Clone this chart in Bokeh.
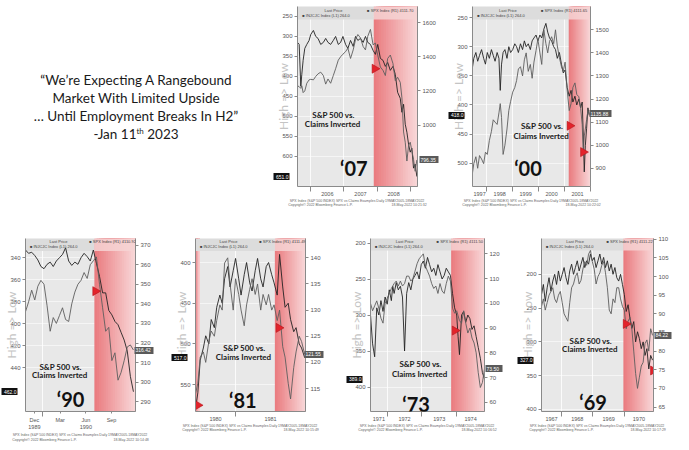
import numpy as np
from bokeh.plotting import figure
from bokeh.models import Range1d, LinearAxis, FixedTicker, BoxAnnotation, Label, Div, Spacer
from bokeh.layouts import row, column
from bokeh.embed import file_html
from bokeh.resources import INLINE

# ---------------- data ----------------
x07 = [2005.6, 2005.65, 2005.7, 2005.73, 2005.77, 2005.82, 2005.88, 2005.95,
       2006.0, 2006.08, 2006.15, 2006.22, 2006.3, 2006.38, 2006.45, 2006.52, 2006.6, 2006.68, 2006.75, 2006.83, 2006.9, 2006.97,
       2007.05, 2007.12, 2007.2, 2007.28, 2007.35, 2007.42, 2007.5, 2007.58, 2007.65, 2007.72, 2007.8, 2007.88, 2007.95,
       2008.02, 2008.1, 2008.18, 2008.25, 2008.32, 2008.4, 2008.48, 2008.55, 2008.62, 2008.7, 2008.75, 2008.8, 2008.85, 2008.9, 2008.95,
       2009.0, 2009.05, 2009.1, 2009.15, 2009.2]
claims07 = [315, 320, 425, 395, 360, 330, 320, 310,
            295, 285, 300, 305, 320, 315, 305, 315, 320, 310, 300, 320, 315, 300,
            320, 330, 310, 325, 300, 310, 305, 315, 300, 315, 320, 335, 345,
            320, 355, 360, 375, 365, 385, 375, 395, 440, 455, 490, 470, 520, 540, 570,
            590, 580, 630, 620, 651]
spx07 = [1230, 1225, 1215, 1230, 1190, 1200, 1245, 1265,
         1268, 1265, 1285, 1300, 1310, 1290, 1240, 1270, 1245, 1290, 1330, 1380, 1400, 1415,
         1430, 1450, 1390, 1440, 1500, 1530, 1510, 1460, 1440, 1520, 1560, 1470, 1480,
         1410, 1340, 1320, 1290, 1390, 1410, 1360, 1260, 1280, 1250, 1160, 960, 900, 790, 880,
         900, 850, 800, 730, 796.35]

x00 = [1997.45, 1997.5, 1997.58, 1997.65, 1997.72, 1997.8, 1997.88, 1997.95,
       1998.02, 1998.1, 1998.18, 1998.25, 1998.32, 1998.4, 1998.47, 1998.52, 1998.57, 1998.63, 1998.7, 1998.78, 1998.85, 1998.92,
       1999.0, 1999.08, 1999.15, 1999.22, 1999.3, 1999.38, 1999.45, 1999.52, 1999.6, 1999.68, 1999.75, 1999.82, 1999.9, 1999.97,
       2000.05, 2000.12, 2000.2, 2000.28, 2000.35, 2000.42, 2000.5, 2000.58, 2000.65, 2000.72, 2000.8, 2000.88, 2000.95,
       2001.02, 2001.1, 2001.18, 2001.25, 2001.32, 2001.4, 2001.47, 2001.55, 2001.62, 2001.68, 2001.72, 2001.76, 2001.8, 2001.85, 2001.9, 2001.95]
claims00 = [335, 320, 310, 325, 315, 305, 320, 330,
            310, 320, 305, 315, 325, 310, 320, 375, 330, 310, 305, 320, 300, 310,
            305, 295, 300, 310, 295, 305, 290, 300, 295, 305, 290, 285, 280, 290,
            280, 285, 270, 260, 275, 285, 290, 300, 305, 320, 310, 330, 345,
            340, 370, 385, 375, 395, 385, 400, 390, 405, 395, 450, 515, 470, 440, 405, 418]
spx00 = [880, 920, 950, 900, 955, 940, 920, 970,
         960, 1020, 1060, 1110, 1100, 1090, 1140, 1180, 1120, 960, 1000, 1070, 1150, 1190,
         1230, 1250, 1280, 1330, 1340, 1300, 1370, 1400, 1320, 1350, 1290, 1360, 1410, 1460,
         1400, 1350, 1500, 1440, 1400, 1450, 1470, 1440, 1500, 1430, 1380, 1340, 1320,
         1360, 1240, 1150, 1180, 1250, 1270, 1220, 1210, 1160, 1090, 965, 1040, 1070, 1110, 1150, 1135.88]

x90 = [1989.83, 1989.86, 1989.89, 1989.92, 1989.95, 1989.98, 1990.01, 1990.04, 1990.07, 1990.10,
       1990.13, 1990.16, 1990.19, 1990.22, 1990.25, 1990.28, 1990.31, 1990.34, 1990.37, 1990.40,
       1990.43, 1990.46, 1990.49, 1990.52, 1990.55, 1990.58, 1990.61, 1990.64, 1990.67, 1990.70,
       1990.73, 1990.76, 1990.79, 1990.82, 1990.85, 1990.88]
claims90 = [333, 336, 335, 338, 342, 348, 350, 346, 344, 348,
            343, 340, 337, 331, 343, 347, 344, 346, 340, 336,
            339, 343, 333, 345, 357, 372, 372, 388, 392, 398,
            401, 408, 415, 425, 448, 462]
spx90 = [336, 341, 347, 342, 349, 352, 350, 339, 326, 333,
         330, 334, 338, 332, 331, 340, 346, 350, 352, 356,
         353, 360, 362, 364, 350, 338, 326, 328, 311, 315,
         301, 305, 311, 318, 319, 316.42]

x81 = [1980.49, 1980.52, 1980.55, 1980.59, 1980.62, 1980.66, 1980.69, 1980.73, 1980.76, 1980.80,
       1980.83, 1980.86, 1980.90, 1980.93, 1980.97, 1981.00, 1981.04, 1981.07, 1981.11, 1981.14,
       1981.18, 1981.21, 1981.25, 1981.28, 1981.32, 1981.35, 1981.39, 1981.42, 1981.46, 1981.49,
       1981.53, 1981.56, 1981.60, 1981.63, 1981.67, 1981.70, 1981.74, 1981.77, 1981.81, 1981.84,
       1981.88]
claims81 = [580, 560, 520, 505, 490, 500, 470, 480, 455, 440,
            450, 420, 405, 430, 410, 395, 420, 440, 415, 400,
            425, 435, 410, 395, 420, 430, 405, 400, 415, 425,
            440, 390, 430, 455, 450, 470, 485, 480, 500, 505,
            517]
spx81 = [114, 116, 121, 122, 120, 124, 126, 125, 128, 131,
         130, 139, 140, 135, 130, 136, 133, 130, 127, 131,
         134, 136, 133, 135, 130, 133, 131, 133, 130, 131,
         128, 130, 123, 121, 116, 113, 119, 122, 125, 124,
         121.55]

x73 = [1971.52, 1971.58, 1971.64, 1971.70, 1971.76, 1971.82, 1971.88, 1971.94,
       1972.00, 1972.06, 1972.12, 1972.16, 1972.20, 1972.26, 1972.32, 1972.38, 1972.44, 1972.50,
       1972.56, 1972.62, 1972.68, 1972.74, 1972.80, 1972.86, 1972.92, 1972.98,
       1973.04, 1973.10, 1973.16, 1973.22, 1973.28, 1973.34, 1973.40, 1973.46, 1973.52, 1973.58,
       1973.64, 1973.70, 1973.76, 1973.82, 1973.88, 1973.94,
       1974.00, 1974.04, 1974.08, 1974.14, 1974.20, 1974.26, 1974.32, 1974.38, 1974.44, 1974.50,
       1974.56, 1974.62, 1974.68, 1974.74, 1974.80]
claims73 = [300, 340, 358, 290, 300, 280, 295, 275,
            285, 265, 280, 260, 270, 255, 265, 260, 275, 350, 270, 255, 265, 250, 245, 240, 250, 230,
            225, 235, 220, 230, 240, 235, 245, 230, 240, 250, 245, 235, 240, 245, 270, 290,
            300, 330, 355, 300, 295, 310, 300, 305, 320, 315, 330, 345, 360, 380, 389]
spx73 = [100, 97, 99, 101, 98, 94, 92, 100,
         102, 104, 106, 107, 108, 109, 107, 109, 107, 108, 111, 111, 109, 110, 113, 116, 118, 119,
         120, 115, 113, 111, 108, 106, 107, 104, 108, 105, 104, 108, 111, 109, 98, 96,
         97, 95, 93, 92, 97, 92, 88, 90, 86, 84, 80, 72, 66, 68, 73.50]

x69 = [1967.36, 1967.42, 1967.48, 1967.54, 1967.60, 1967.66, 1967.72, 1967.78, 1967.84, 1967.90, 1967.96,
       1968.02, 1968.08, 1968.14, 1968.20, 1968.26, 1968.32, 1968.38, 1968.44, 1968.50, 1968.56, 1968.62,
       1968.68, 1968.74, 1968.80, 1968.86, 1968.92, 1968.98,
       1969.04, 1969.10, 1969.16, 1969.22, 1969.28, 1969.34, 1969.40, 1969.46, 1969.52, 1969.58, 1969.64,
       1969.70, 1969.76, 1969.82, 1969.88, 1969.94,
       1970.00, 1970.06, 1970.12, 1970.18, 1970.24, 1970.30, 1970.36, 1970.42, 1970.48, 1970.54, 1970.60,
       1970.66, 1970.72, 1970.78, 1970.84, 1970.90]
claims69 = [230, 215, 240, 220, 205, 225, 210, 200, 215, 195, 210,
            200, 190, 205, 215, 195, 185, 200, 190, 180, 195, 185, 175, 190, 180, 185, 170, 180,
            175, 190, 180, 170, 185, 175, 190, 180, 195, 185, 200, 190, 205, 210, 200, 215,
            230, 255, 245, 265, 280, 270, 300, 285, 295, 310, 300, 320, 310, 340, 320, 327]
spx69 = [92, 94, 91, 93, 95, 96, 97, 94, 93, 95, 96,
         93, 90, 89, 88, 93, 97, 98, 100, 101, 98, 99, 102, 104, 103, 106, 107, 104,
         102, 98, 100, 101, 103, 104, 101, 97, 91, 90, 94, 93, 97, 97, 94, 92,
         91, 86, 88, 89, 86, 80, 74, 70, 73, 76, 77, 82, 83, 80, 86, 84.22]

# axis ticks
lt07 = [250, 300, 350, 400, 450, 500, 550, 600]
rt07 = [1000, 1200, 1400, 1600]
lt00 = [250, 300, 350, 400, 450, 500]
rt00 = [900, 1000, 1100, 1200, 1300, 1400, 1500]
lt90 = [340, 360, 380, 400, 420, 440]
rt90 = [290, 300, 310, 320, 330, 340, 350, 360, 370]
lt81 = [400, 450, 500, 550]
rt81 = [115, 120, 125, 130, 135, 140]
lt73 = [200, 250, 300, 350, 400]
rt73 = [60, 70, 80, 90, 100, 110, 120]
lt69 = [200, 250, 300, 350, 400]
rt69 = [65, 70, 75, 80, 85, 90, 95, 100, 105, 110]

years07 = [2006, 2007, 2008]
years00 = [1997, 1998, 1999, 2000, 2001]
years81 = [1980, 1981]
years73 = [1971, 1972, 1973, 1974]
years69 = [1967, 1968, 1969, 1970]
mon_pos90 = [1989.917, 1990.167, 1990.417, 1990.667]
mon_lab90 = ["Dec\n1989", "Mar", "Jun\n1990", "Sep"]

# recession shading (start, end)
shade07 = [(2007.9, 2009.22)]
shade00 = [(2001.16, 2002.0)]
shade90 = [(1990.5, 1990.9)]
shade81 = [(1980.49, 1980.54), (1981.5, 1981.89)]
shade73 = [(1973.84, 1974.8)]
shade69 = [(1969.97, 1970.93)]

# red markers (x, S&P value)
mk07_x, mk07_y = [2007.93], [1330]
mk00_x, mk00_y = [2001.2, 2001.72], [1084, 970]
mk90_x, mk90_y = [1990.51], [346.5]
mk81_x, mk81_y = [1980.52, 1981.55], [111.8, 126.6]
mk73_x, mk73_y = [1973.95], [89]
mk69_x, mk69_y = [1970.05, 1970.92], [87.3, 74.8]

spx_last = ["4111.70", "4111.65", "4110.92", "4111.49", "4111.50", "4111.22"]
titles = ["\u201807", "\u201800", "\u201890", "\u201881", "\u201873", "\u201869"]
stamps = ["18-May-2022 10:21:32", "18-May-2022 10:22:02", "18-May-2022 10:14:48",
          "18-May-2022 10:15:49", "18-May-2022 10:16:52", "18-May-2022 10:17:29"]

# ---------------- styling / helpers ----------------
FONT = "Liberation Sans"
TFONT = "Lato"
C0 = (234, 124, 128)
C1 = (248, 214, 215)
FOOT1 = "SPX Index (S&P 500 INDEX) SPX vs Claims Examples  Daily 19MAY2005-18MAY2022"
FOOT2 = "Copyright\u00a9 2022 Bloomberg Finance L.P."


def hexcol(t):
    r = [int(round(a + (b - a) * t)) for a, b in zip(C0, C1)]
    return "#%02x%02x%02x" % tuple(r)


def style_axis(ax):
    ax.axis_line_color = "#8a8a8a"
    ax.major_tick_line_color = "#8a8a8a"
    ax.major_tick_out = 3
    ax.major_tick_in = 0
    ax.minor_tick_line_color = None
    ax.major_label_text_font = FONT
    ax.major_label_text_font_size = "6px"
    ax.major_label_text_color = "#555555"
    ax.major_label_standoff = 2


def value_axis(p, side, yv, text, color, width_px, range_name=None):
    kw = {} if range_name is None else {"y_range_name": range_name}
    ax = LinearAxis(ticker=FixedTicker(ticks=[yv]), **kw)
    ax.major_label_overrides = {yv: text}
    ax.axis_line_color = None
    ax.minor_tick_line_color = None
    ax.major_tick_out = 0
    ax.major_tick_in = width_px
    ax.major_tick_line_width = 7
    ax.major_tick_line_cap = "butt"
    ax.major_tick_line_color = color
    ax.major_label_text_font = FONT
    ax.major_label_text_font_size = "5px"
    ax.major_label_text_color = "white"
    ax.major_label_standoff = -(width_px - 1)
    p.add_layout(ax, side)


def year_ticks(years, xr):
    pos = [round((max(y, xr[0]) + min(y + 1, xr[1])) / 2, 3) for y in years]
    return pos, [str(y) for y in years]


def make_chart(c, idx):
    x0, x1 = c["xr"]
    lb, ltop = c["yl"]
    rb, rtop = c["yr"]
    fh = c["H"] - c["T"] - c["B"]

    def xf(f):
        return x0 + f * (x1 - x0)

    def yf(f):
        return lb + f * (ltop - lb)

    p = figure(width=c["W"], height=c["H"], x_range=Range1d(x0, x1), y_range=Range1d(lb, ltop),
               output_backend="svg", toolbar_location=None,
               min_border_left=c["L"], min_border_right=c["R"],
               min_border_top=c["T"], min_border_bottom=c["B"])
    p.extra_y_ranges = {"spx": Range1d(rb, rtop)}
    p.background_fill_color = "#e8e8e8"
    p.border_fill_color = "white"
    p.outline_line_color = None

    # grids
    p.xgrid[0].ticker = FixedTicker(ticks=c["bounds"])
    p.xgrid.grid_line_color = "white"
    p.xgrid.grid_line_alpha = 0.8
    p.ygrid.grid_line_color = "white"
    p.ygrid.grid_line_alpha = 0.55

    # left axis (claims, inverted) with the "High => Low" label
    ya = p.yaxis[0]
    ya.ticker = FixedTicker(ticks=c["lt"])
    style_axis(ya)
    ya.axis_label = "High => Low"
    ya.axis_label_text_font = TFONT
    ya.axis_label_text_font_size = "12px"
    ya.axis_label_text_font_style = "normal"
    ya.axis_label_text_color = "#c4c4c4"
    ya.axis_label_standoff = c["hl"]

    # last-value box on the left (outside the claims axis)
    value_axis(p, "left", c["claims"][-1], "%.1f" % c["claims"][-1], "#111111", 16)

    # right side: S&P axis next to the frame, value box outside it
    ra = LinearAxis(y_range_name="spx", ticker=FixedTicker(ticks=c["rt"]))
    style_axis(ra)
    p.add_layout(ra, "right")
    sv = "%.2f" % c["spx"][-1]
    value_axis(p, "right", c["spx"][-1], sv, "#5a5a5a", int(len(sv) * 2.8) + 3, "spx")

    # date axis, with the two footer lines as its label
    xa = p.xaxis[0]
    xa.ticker = FixedTicker(ticks=c["xpos"], minor_ticks=c["bounds"])
    xa.major_label_overrides = {pp: ll for pp, ll in zip(c["xpos"], c["xlab"])}
    style_axis(xa)
    xa.major_label_text_font_size = "5.5px"
    xa.major_tick_out = 2 if c.get("xmajor") else 0
    if not c.get("xmajor"):
        xa.major_tick_line_color = None
    xa.minor_tick_line_color = "#8a8a8a"
    xa.minor_tick_out = 5
    xa.minor_tick_in = 0
    xa.major_label_standoff = 0
    xa.axis_label = FOOT1 + "\n" + FOOT2 + "\u00a0" * c["gap"] + stamps[idx]
    xa.axis_label_text_font = FONT
    xa.axis_label_text_font_size = "3.5px"
    xa.axis_label_text_font_style = "normal"
    xa.axis_label_text_color = "#666666"
    xa.axis_label_standoff = 0

    # recession shading with a left-to-right fade (each strip runs to the end, later ones on top)
    for (s0, s1) in c["shade"]:
        n = 18
        for i in range(n):
            a = s0 + (s1 - s0) * i / n
            p.add_layout(BoxAnnotation(left=a, right=s1, fill_color=hexcol(i / (n - 1)),
                                       fill_alpha=1.0, line_color=None, level="underlay"))

    # legend band at the top
    band_b = yf(1 - 13.0 / fh)
    main_s = c["shade"][-1][0]
    p.add_layout(BoxAnnotation(left=x0, right=main_s, top=ltop, bottom=band_b, fill_color="#dcdcdc",
                               fill_alpha=1.0, line_color=None, level="underlay"))
    p.add_layout(BoxAnnotation(left=main_s, right=x1, top=ltop, bottom=band_b, fill_color="#f6d3d4",
                               fill_alpha=0.85, line_color=None, level="underlay"))

    # series
    p.line(c["x"], c["claims"], line_color="#222222", line_width=0.9)
    p.line(c["x"], c["spx"], y_range_name="spx", line_color="#5e5e5e", line_width=0.9)
    p.scatter(c["mkx"], c["mky"], y_range_name="spx", marker="triangle", angle=-np.pi / 2,
              size=9, fill_color="#e3232b", line_color="#b3121a", line_width=0.6)

    def lab(x, y, text, **kw):
        p.add_layout(Label(x=x, y=y, text=text, **kw))

    # legend texts
    small = dict(text_font=FONT, text_font_size="4px", text_color="#444444", text_baseline="middle")
    lab(xf(0.30), yf(1 - 3.5 / fh), "Last Price", text_align="center", **small)
    lab(xf(0.58), yf(1 - 3.5 / fh), "\u25a0 SPX Index   (R1)  " + spx_last[idx], text_align="left", **small)
    lab(xf(0.04), yf(1 - 8.5 / fh), "\u25a0 INJCJC Index   (L1)  264.0", text_align="left", **small)

    # in-chart captions
    sx, sy1, sy2 = c["sp"]
    cap = dict(text_font=TFONT, text_font_size="8px", text_font_style="bold", text_color="#1a1a1a",
               text_align="center", text_baseline="middle")
    lab(xf(sx), yf(sy1), "S&P 500 vs.", **cap)
    lab(xf(sx), yf(sy2), "Claims  Inverted", **cap)
    bx, by = c["big"]
    lab(xf(bx), yf(by), titles[idx], text_font=TFONT, text_font_size="20px", text_font_style="bold",
        text_color="#111111", text_align="center", text_baseline="middle")
    return p


def cfg(x, cl, sp, xr, yl, yr, lt, rt, xpos, xlab, bounds, shade, mkx, mky, W, L, R, H, T, B,
        hl, spos, big, gap, xmajor=False):
    return dict(x=x, claims=cl, spx=sp, xr=xr, yl=yl, yr=yr, lt=lt, rt=rt, xpos=xpos, xlab=xlab,
                bounds=bounds, shade=shade, mkx=mkx, mky=mky, W=W, L=L, R=R, H=H, T=T, B=B,
                hl=hl, sp=spos, big=big, gap=gap, xmajor=xmajor)


xr07 = (2005.6, 2009.22)
xr00 = (1997.45, 2002.0)
xr90 = (1989.83, 1990.9)
xr81 = (1980.49, 1981.89)
xr73 = (1971.52, 1974.8)
xr69 = (1967.36, 1970.93)

p07 = make_chart(cfg(x07, claims07, spx07, xr07, (676, 225), (641, 1694), lt07, rt07,
                     *year_ticks(years07, xr07), [2006, 2007, 2008, 2009], shade07, mk07_x, mk07_y,
                     175, 22, 30, 212, 6, 26, -12, (0.30, 0.40, 0.35), (0.47, 0.105), 40), 0)
p00 = make_chart(cfg(x00, claims00, spx00, xr00, (540, 231), (821, 1601), lt00, rt00,
                     *year_ticks(years00, xr00), [1998, 1999, 2000, 2001, 2002], shade00, mk00_x, mk00_y,
                     183, 19, 40, 212, 6, 26, -12, (0.59, 0.335, 0.28), (0.47, 0.105), 40), 1)
p90 = make_chart(cfg(x90, claims90, spx90, xr90, (480, 322.5), (285, 373.4), lt90, rt90,
                     mon_pos90, mon_lab90, [1990.0], shade90, mk90_x, mk90_y,
                     170, 17, 35, 222, 14, 29, -12, (0.32, 0.26, 0.21), (0.41, 0.07), 38, True), 2)
p81 = make_chart(cfg(x81, claims81, spx81, xr81, (583, 370.5), (110.6, 143.7), lt81, rt81,
                     *year_ticks(years81, xr81), [1981], shade81, mk81_x, mk81_y,
                     175, 17, 40, 222, 16, 25, -12, (0.445, 0.367, 0.317), (0.43, 0.068), 38), 3)
p73 = make_chart(cfg(x73, claims73, spx73, xr73, (434, 193.7), (56.3, 126.2), lt73, rt73,
                     *year_ticks(years73, xr73), [1972, 1973, 1974], shade73, mk73_x, mk73_y,
                     171, 17, 32, 222, 10, 24, -12, (0.44, 0.275, 0.215), (0.40, 0.045), 40), 4)
p69 = make_chart(cfg(x69, claims69, spx69, xr69, (403, 147), (63.8, 110.2), lt69, rt69,
                     *year_ticks(years69, xr69), [1968, 1969, 1970], shade69, mk69_x, mk69_y,
                     157, 19, 20, 222, 9, 25, -12, (0.44, 0.405, 0.36), (0.46, 0.055), 38), 5)

quote_html = (
    '<div style="width:262px;text-align:center;font-family:Lato,\'Open Sans\',sans-serif;'
    'font-size:13.5px;line-height:18px;color:#1a1a1a;padding-top:66px;">'
    '\u201cWe\u2019re Expecting A Rangebound<br>'
    'Market With Limited Upside<br>'
    '\u2026 Until Employment Breaks In H2\u201d<br>'
    '-Jan 11<sup style="font-size:8px;line-height:0;">th</sup> 2023</div>'
)
quote = Div(text=quote_html, width=262, height=212)

layout = column(
    row(quote, p07, p00, Spacer(width=53, height=212)),
    row(p90, p81, p73, p69),
)

open("out.html", "w").write(file_html(layout, INLINE))
